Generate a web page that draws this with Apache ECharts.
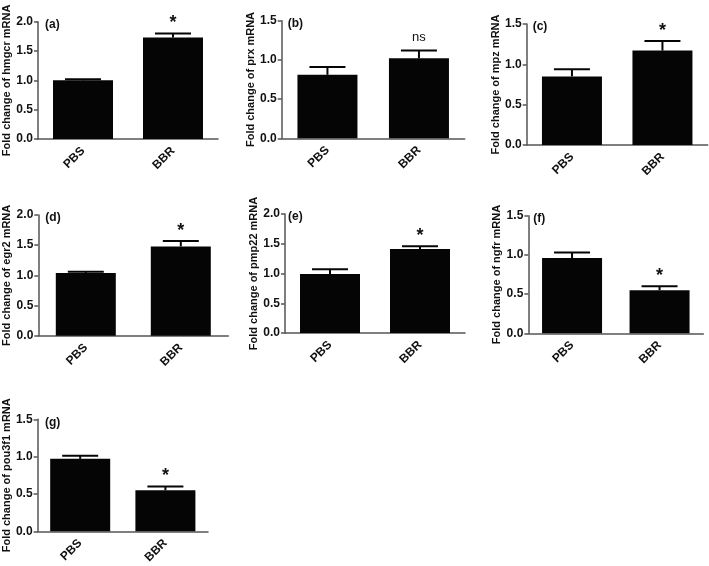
<!DOCTYPE html>
<html>
<head>
<meta charset="utf-8">
<script src="https://cdn.jsdelivr.net/npm/echarts@6/dist/echarts.min.js"></script>
<style>
  html, body { margin: 0; padding: 0; background: #fff; }
  #main { width: 709px; height: 566px; }
</style>
</head>
<body>
<div id="main"></div>
<script>
// data
const groups = ['PBS', 'BBR'];
const genes = ['hmgcr', 'prx', 'mpz', 'egr2', 'pmp22', 'ngfr', 'pou3f1'];
const tags = ['(a)', '(b)', '(c)', '(d)', '(e)', '(f)', '(g)'];
const means = [
  [1.00, 1.73],
  [0.81, 1.02],
  [0.85, 1.17],
  [1.04, 1.48],
  [0.99, 1.41],
  [0.96, 0.55],
  [0.97, 0.55]
];
const sems = [
  [0.02, 0.07],
  [0.10, 0.10],
  [0.09, 0.12],
  [0.02, 0.09],
  [0.08, 0.05],
  [0.07, 0.05],
  [0.04, 0.05]
];
const marks = [
  ['', '*'],
  ['', 'ns'],
  ['', '*'],
  ['', '*'],
  ['', '*'],
  ['', '*'],
  ['', '*']
];
const yMax = [2.0, 1.5, 1.5, 2.0, 2.0, 1.5, 1.5];

// panel placement (px)
const boxes = [
  {left: 38, top: 21.7, width: 180, height: 117.3, tag: 7},
  {left: 281.7, top: 20.7, width: 183, height: 117.6, tag: 6},
  {left: 526.7, top: 24, width: 181, height: 121, tag: 6},
  {left: 38.3, top: 215, width: 190, height: 120.7, tag: 7},
  {left: 285, top: 214, width: 180, height: 119, tag: 3},
  {left: 528.3, top: 215.7, width: 175, height: 117.6, tag: 5},
  {left: 35, top: 419.3, width: 173, height: 116, tag: 10}
];

const font = 'Liberation Sans, Arial, sans-serif';
const axisColor = '#555';

let chart = echarts.init(document.getElementById('main'));

let grid = [], xAxis = [], yAxis = [], series = [], titles = [];

genes.forEach((g, i) => {
  let b = boxes[i];
  grid.push({left: b.left, top: b.top, width: b.width, height: b.height, containLabel: false});
  xAxis.push({
    type: 'category',
    gridIndex: i,
    data: groups,
    axisLine: {lineStyle: {color: axisColor, width: 1.5}},
    axisTick: {alignWithLabel: true, length: 4, lineStyle: {color: axisColor, width: 1.5}},
    axisLabel: {
      rotate: 45, margin: 10, color: '#111',
      fontFamily: font, fontWeight: 'bold', fontSize: 12
    }
  });
  yAxis.push({
    type: 'value',
    gridIndex: i,
    min: 0, max: yMax[i], interval: 0.5,
    name: 'Fold change of ' + g + ' mRNA',
    nameLocation: 'middle',
    nameGap: 25,
    nameTextStyle: {fontFamily: font, fontWeight: 'bold', fontSize: 11, color: '#111'},
    splitLine: {show: false},
    axisLine: {show: true, lineStyle: {color: axisColor, width: 1.5}},
    axisTick: {show: true, length: 4, lineStyle: {color: axisColor, width: 1.5}},
    axisLabel: {
      margin: 5, color: '#111', fontFamily: font, fontWeight: 'bold', fontSize: 12,
      formatter: v => v.toFixed(1)
    }
  });
  series.push({
    type: 'bar',
    xAxisIndex: i, yAxisIndex: i,
    barWidth: 60,
    itemStyle: {color: '#050505'},
    data: means[i],
    z: 2
  });
  series.push({
    type: 'custom',
    xAxisIndex: i, yAxisIndex: i,
    z: 3,
    data: means[i].map((m, k) => [k, m, sems[i][k]]),
    renderItem: (params, api) => {
      let base = api.coord([api.value(0), api.value(1)]);
      let top = api.coord([api.value(0), api.value(1) + api.value(2)]);
      let half = 18;
      let kids = [
        {type: 'line', shape: {x1: base[0], y1: base[1], x2: top[0], y2: top[1]},
         style: {stroke: '#050505', lineWidth: 2}},
        {type: 'line', shape: {x1: top[0] - half, y1: top[1], x2: top[0] + half, y2: top[1]},
         style: {stroke: '#050505', lineWidth: 2}}
      ];
      let s = marks[i][params.dataIndex];
      if (s === '*') {
        kids.push({type: 'text', x: top[0], y: top[1] - 1,
          style: {text: '*', fill: '#111', font: 'bold 18px ' + font, align: 'center', verticalAlign: 'bottom'}});
      } else if (s) {
        kids.push({type: 'text', x: top[0], y: top[1] - 7,
          style: {text: s, fill: '#111', font: '13px ' + font, align: 'center', verticalAlign: 'bottom'}});
      }
      return {type: 'group', children: kids};
    }
  });
  titles.push({
    text: tags[i],
    left: b.left + b.tag,
    top: b.top - 3,
    padding: 0,
    textStyle: {fontFamily: font, fontWeight: 'bold', fontSize: 12, color: '#111'}
  });
});

let option = {
  animation: false,
  title: titles,
  grid: grid,
  xAxis: xAxis,
  yAxis: yAxis,
  series: series
};
chart.setOption(option);
</script>
</body>
</html>
